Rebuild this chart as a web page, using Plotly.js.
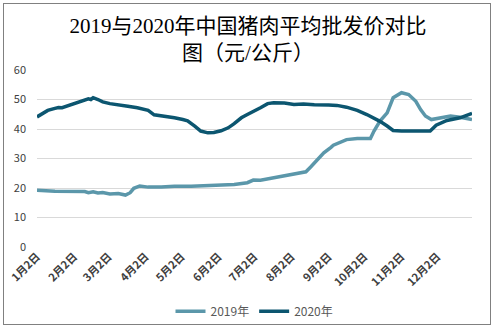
<!DOCTYPE html>
<html>
<head>
<meta charset="utf-8">
<script src="https://cdn.plot.ly/plotly-3.0.1.min.js"></script>
<style>
html,body{margin:0;padding:0;background:#fff;}
#wrap{position:relative;width:496px;height:331px;}
#chart{width:496px;height:331px;}
#frame{position:absolute;left:3px;top:3px;width:488px;height:322px;border:1px solid #808080;box-sizing:border-box;pointer-events:none;}
</style>
</head>
<body>
<div id="wrap"><div id="chart"></div><div id="frame"></div></div>
<script>
// 2019 series (month-day, 元/公斤)
const dates2019 = ["01-02","01-17","02-11","02-14","02-18","02-22","02-26","03-03","03-10","03-16","03-20","03-23","03-28","04-04","04-15","04-26","05-10","05-29","06-15","06-26","07-01","07-07","07-18","07-29","08-07","08-14","08-18","08-24","08-29","09-04","09-06","09-17","09-26","10-07","10-10","10-15","10-21","10-26","11-02","11-08","11-14","11-18","11-22","11-27","12-04","12-13","12-21","12-31"];
const values2019 = [19.2,18.9,18.8,18.4,18.7,18.3,18.5,18.0,18.1,17.6,18.4,19.9,20.7,20.3,20.3,20.6,20.6,21.0,21.2,21.8,22.7,22.6,23.4,24.4,24.8,25.5,27.1,29.7,31.9,33.8,34.5,36.4,36.8,36.8,39.3,42.7,45.5,50.6,52.3,51.7,49.4,46.6,44.4,43.2,43.8,44.4,44.0,43.2];
// 2020 series
const dates2020 = ["01-02","01-07","01-11","01-17","01-20","01-23","01-28","02-06","02-11","02-14","02-16","02-18","02-22","02-26","03-03","03-10","03-18","03-26","04-04","04-09","04-18","04-26","05-03","05-07","05-13","05-18","05-24","05-29","06-04","06-10","06-15","06-21","06-26","07-03","07-07","07-13","07-18","07-27","08-04","08-12","08-21","09-02","09-09","09-17","09-26","10-04","10-10","10-15","10-21","10-26","11-02","11-12","11-26","12-01","12-10","12-21","12-31"];
const values2020 = [44.1,45.3,46.3,47.0,47.3,47.2,47.9,48.9,49.9,50.2,50.0,50.6,50.0,49.2,48.6,48.3,47.7,47.2,46.3,44.8,44.4,43.8,43.2,42.8,41.0,39.3,38.7,38.8,39.4,40.4,41.8,43.8,44.9,46.2,47.2,48.6,48.9,48.8,48.3,48.5,48.2,48.1,48.0,47.4,46.3,44.9,43.8,42.6,41.0,39.5,39.3,39.4,39.3,41.3,42.9,43.8,45.3];
const seriesNames = ["2019年","2020年"];
const tickDates = ["01-02","02-02","03-02","04-02","05-02","06-02","07-02","08-02","09-02","10-02","11-02","12-02"];
const tickLabels = ["1月2日","2月2日","3月2日","4月2日","5月2日","6月2日","7月2日","8月2日","9月2日","10月2日","11月2日","12月2日"];
const titleText = "2019与2020年中国猪肉平均批发价对比<br>图（元/公斤）";

const toDate = md => "2020-" + md;
const CJK = "'Noto Sans CJK SC', sans-serif";

const traces = [
  {x: dates2019.map(toDate), y: values2019, name: seriesNames[0], type: "scatter", mode: "lines",
   line: {color: "#5b97aa", width: 3.5}},
  {x: dates2020.map(toDate), y: values2020, name: seriesNames[1], type: "scatter", mode: "lines",
   line: {color: "#0c5670", width: 3.5}}
];

const layout = {
  width: 496, height: 331,
  margin: {l: 37, r: 24, t: 70, b: 84, autoexpand: false},
  paper_bgcolor: "#ffffff", plot_bgcolor: "#ffffff",
  title: {text: titleText, x: 0.5, xanchor: "center", yref: "container", y: 0.9, yanchor: "top",
          font: {family: "'Liberation Serif', 'Noto Sans CJK SC', serif", size: 21, color: "#000"}},
  xaxis: {type: "date", range: [toDate("01-02"), toDate("12-31")],
          tickvals: tickDates.map(toDate), ticktext: tickLabels.map(t => "<b>" + t + "</b>"),
          tickangle: -45, showgrid: false, zeroline: false, showline: false, ticks: "",
          tickfont: {family: CJK, size: 11, color: "#404040"}},
  yaxis: {range: [0, 60], tickvals: [0,10,20,30,40,50,60], showgrid: true, gridcolor: "#d9d9d9",
          gridwidth: 1, zeroline: false, showline: false, ticks: "", ticklabelstandoff: 10,
          tickfont: {family: CJK, size: 11, color: "#404040"}},
  showlegend: true,
  legend: {orientation: "h", x: 0.5, xanchor: "center", yref: "container", y: 0.06, yanchor: "middle",
           font: {family: CJK, size: 12, color: "#595959"}, itemwidth: 30}
};

Plotly.newPlot("chart", traces, layout, {staticPlot: true, displayModeBar: false});
</script>
</body>
</html>
